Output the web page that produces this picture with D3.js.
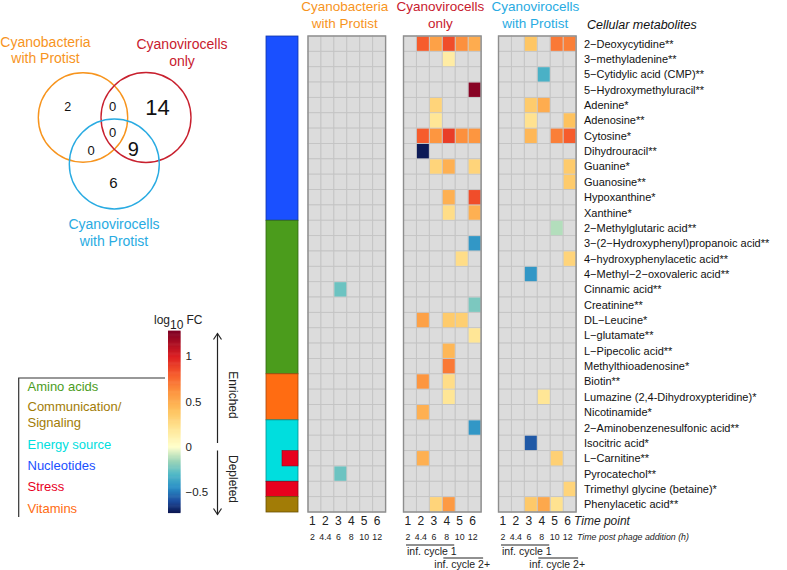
<!DOCTYPE html>
<html>
<head>
<meta charset="utf-8">
<script src="https://cdn.jsdelivr.net/npm/d3@7"></script>
<style>
  html, body { margin: 0; padding: 0; background: #fff; }
  svg { display: block; font-family: "Liberation Sans", Arial, sans-serif; }
</style>
</head>
<body>
<svg id="chart" width="787" height="570"></svg>
<script>
const metabolites = [
  "2−Deoxycytidine**", "3−methyladenine**", "5−Cytidylic acid (CMP)**",
  "5−Hydroxymethyluracil**", "Adenine*", "Adenosine**", "Cytosine*",
  "Dihydrouracil**", "Guanine*", "Guanosine**", "Hypoxanthine*", "Xanthine*",
  "2−Methylglutaric acid**", "3−(2−Hydroxyphenyl)propanoic acid**",
  "4−hydroxyphenylacetic acid**", "4−Methyl−2−oxovaleric acid**",
  "Cinnamic acid**", "Creatinine**", "DL−Leucine*", "L−glutamate**",
  "L−Pipecolic acid**", "Methylthioadenosine*", "Biotin**",
  "Lumazine (2,4-Dihydroxypteridine)*", "Nicotinamide*",
  "2−Aminobenzenesulfonic acid**", "Isocitric acid*", "L−Carnitine**",
  "Pyrocatechol**", "Trimethyl glycine (betaine)*", "Phenylacetic acid**"
];

const categoryNames = ["Amino acids", "Communication/Signaling", "Energy source", "Nucleotides", "Stress", "Vitamins"];
const categoryColors = ["#4b9c1c", "#a27c06", "#00dede", "#1a50ff", "#e8001e", "#ff6c12"];

// one category per metabolite row
const rowCategory = [
  "Nucleotides", "Nucleotides", "Nucleotides", "Nucleotides", "Nucleotides", "Nucleotides",
  "Nucleotides", "Nucleotides", "Nucleotides", "Nucleotides", "Nucleotides", "Nucleotides",
  "Amino acids", "Amino acids", "Amino acids", "Amino acids", "Amino acids",
  "Amino acids", "Amino acids", "Amino acids", "Amino acids", "Amino acids",
  "Vitamins", "Vitamins", "Vitamins",
  "Energy source", "Energy source", "Energy source", "Energy source",
  "Stress", "Communication/Signaling"
];
// rows with a second category (row, category)
const secondCategory = [[27, "Stress"]];

const panelTitles = [["Cyanobacteria", "with Protist"], ["Cyanovirocells", "only"], ["Cyanovirocells", "with Protist"]];
const panelColors = ["#f7941d", "#c8202e", "#29abe2"];
const timePoints = [1, 2, 3, 4, 5, 6];
const hourLabels = ["2", "4.4", "6", "8", "10", "12"];

// [row, time point, log10 FC]
const protistValues = [[16, 3, -0.25], [28, 3, -0.25]];
const virocellValues = [
  [0, 2, 0.8], [0, 3, 0.55], [0, 4, 0.85], [0, 5, 0.62], [0, 6, 0.5],
  [1, 4, 0.15], [3, 6, 1.25], [4, 3, 0.3], [5, 3, 0.2],
  [6, 2, 0.8], [6, 3, 0.6], [6, 4, 0.9], [6, 5, 0.62], [6, 6, 0.6],
  [7, 2, -0.72], [8, 3, 0.3], [8, 4, 0.48], [8, 6, 0.3],
  [10, 4, 0.48], [10, 6, 0.85], [11, 4, 0.25], [11, 6, 0.48],
  [13, 6, -0.42], [14, 5, 0.25], [17, 6, -0.22],
  [18, 2, 0.55], [18, 4, 0.35], [18, 5, 0.33], [19, 6, 0.2],
  [20, 4, 0.45], [21, 4, 0.7], [22, 2, 0.6], [22, 4, 0.25], [23, 4, 0.2],
  [24, 2, 0.48], [25, 6, -0.42], [27, 2, 0.48], [30, 3, 0.3], [30, 4, 0.58]
];
const virocellProtistValues = [
  [0, 3, 0.38], [0, 5, 0.7], [0, 6, 0.68], [2, 4, -0.33],
  [4, 3, 0.35], [4, 4, 0.5], [5, 3, 0.22], [5, 6, 0.4],
  [6, 3, 0.45], [6, 5, 0.68], [6, 6, 0.8], [8, 6, 0.35], [9, 6, 0.35],
  [12, 5, -0.12], [14, 6, 0.3], [15, 3, -0.42], [23, 4, 0.2],
  [26, 3, -0.57], [27, 5, 0.32], [29, 6, 0.3],
  [30, 3, 0.36], [30, 4, 0.52], [30, 5, 0.22]
];
const panelValues = [protistValues, virocellValues, virocellProtistValues];

const vennCounts = [2, 0, 14, 0, 0, 9, 6];
const colorTicks = [1, 0.5, 0, -0.5];
const fcStops = [-0.73, -0.6, -0.45, -0.3, -0.15, 0, 0.2, 0.4, 0.6, 0.8, 1.0, 1.28];
const fcColors = ["#0c1650", "#1d4c9e", "#2a8fc6", "#52b9c6", "#a0d6b8", "#ffffcc",
  "#ffe696", "#fec25e", "#fd9640", "#f65c2c", "#dc1e22", "#7e0024"];

const svg = d3.select("#chart");
const color = d3.scaleLinear().domain(fcStops).range(fcColors).interpolate(d3.interpolateRgb).clamp(true);

// ---------- heatmap ----------
const y = d3.scaleBand().domain(d3.range(metabolites.length)).range([36, 512]);
const panelX0 = [308, 403.5, 498.5];
const panelW = 77.6;

panelX0.forEach((x0, p) => {
  const x = d3.scaleBand().domain(timePoints).range([x0, x0 + panelW]);
  const g = svg.append("g");
  const cells = [];
  metabolites.forEach((_m, r) => timePoints.forEach(t => cells.push([r, t])));
  g.selectAll("rect.bg").data(cells).join("rect")
    .attr("x", d => x(d[1])).attr("y", d => y(d[0]))
    .attr("width", x.bandwidth()).attr("height", y.bandwidth())
    .attr("fill", "#dcdcdc").attr("stroke", "#c4c4c4").attr("stroke-width", 0.9);
  g.selectAll("rect.v").data(panelValues[p]).join("rect")
    .attr("x", d => x(d[1]) + 0.5).attr("y", d => y(d[0]) + 0.5)
    .attr("width", x.bandwidth() - 1).attr("height", y.bandwidth() - 1)
    .attr("fill", d => color(d[2]));
  g.append("rect")
    .attr("x", x0).attr("y", 36).attr("width", panelW).attr("height", 476)
    .attr("fill", "none").attr("stroke", "#8e8e8e").attr("stroke-width", 1.4);

  const cx = x0 + panelW / 2;
  panelTitles[p].forEach((line, i) => {
    svg.append("text").attr("x", cx - 2).attr("y", 11 + i * 16.5)
      .attr("text-anchor", "middle").attr("font-size", 13.5)
      .attr("fill", panelColors[p]).text(line);
  });

  g.selectAll("text.tp").data(timePoints).join("text")
    .attr("x", d => x(d) + x.bandwidth() / 2 - 2).attr("y", 525)
    .attr("text-anchor", "middle").attr("font-size", 12).attr("fill", "#222")
    .text(d => d);
  g.selectAll("text.hr").data(hourLabels).join("text")
    .attr("x", (d, i) => x(timePoints[i]) + x.bandwidth() / 2 - 2).attr("y", 540)
    .attr("text-anchor", "middle").attr("font-size", 8.8).attr("fill", "#222")
    .text(d => d);

  if (p > 0) {
    const l1a = x(1) + 2.5, l1b = x(4) + x.bandwidth() - 1;
    const l2a = x(4) + 1, l2b = x(6) + x.bandwidth() + 2;
    g.append("line").attr("x1", l1a).attr("x2", l1b).attr("y1", 545).attr("y2", 545)
      .attr("stroke", "#222").attr("stroke-width", 1);
    g.append("text").attr("x", l1a + 1).attr("y", 554.5).attr("font-size", 10.5)
      .attr("fill", "#222").text("inf. cycle 1");
    g.append("line").attr("x1", l2a).attr("x2", l2b).attr("y1", 558).attr("y2", 558)
      .attr("stroke", "#222").attr("stroke-width", 1);
    g.append("text").attr("x", l2a - 9).attr("y", 568).attr("font-size", 10.5)
      .attr("fill", "#222").text("inf. cycle 2+");
  }
});

svg.append("text").attr("x", 574).attr("y", 525).attr("font-size", 12)
  .attr("font-style", "italic").attr("fill", "#222").text("Time point");
svg.append("text").attr("x", 577).attr("y", 540).attr("font-size", 8.8)
  .attr("font-style", "italic").attr("fill", "#222").text("Time post phage addition (h)");

// metabolite labels
svg.append("text").attr("x", 587).attr("y", 29).attr("font-size", 12.5)
  .attr("font-style", "italic").attr("fill", "#111").text("Cellular metabolites");
svg.selectAll("text.met").data(metabolites).join("text")
  .attr("x", 584).attr("y", (d, i) => y(i) + y.bandwidth() / 2)
  .attr("dy", "0.36em").attr("font-size", 11).attr("fill", "#111")
  .text(d => d);

// category bar, one block per run of equal categories
const catColor = d3.scaleOrdinal().domain(categoryNames).range(categoryColors);
const barX = 266, barW = 32;
const segments = [];
rowCategory.forEach((c, i) => {
  const last = segments[segments.length - 1];
  if (last && last.cat === c) last.end = i; else segments.push({ cat: c, start: i, end: i });
});
svg.selectAll("rect.seg").data(segments).join("rect")
  .attr("x", barX).attr("y", d => y(d.start)).attr("width", barW)
  .attr("height", d => y(d.end) + y.step() - y(d.start))
  .attr("fill", d => catColor(d.cat))
  .attr("stroke", d => d3.color(catColor(d.cat)).darker(1.2)).attr("stroke-width", 0.8);
svg.selectAll("rect.cat2").data(secondCategory).join("rect")
  .attr("x", barX + barW / 2).attr("y", d => y(d[0])).attr("width", barW / 2)
  .attr("height", y.step()).attr("fill", d => catColor(d[1]))
  .attr("stroke", d => d3.color(catColor(d[1])).darker(1.2)).attr("stroke-width", 0.6);

// ---------- colour bar ----------
const cy = d3.scaleLinear().domain([-0.73, 1.28]).range([512.8, 330.9]);
const steps = d3.range(-0.73, 1.28, 0.01);
svg.selectAll("rect.cb").data(steps).join("rect")
  .attr("x", 168).attr("width", 12.5)
  .attr("y", d => cy(d + 0.01) - 0.3).attr("height", d => cy(d) - cy(d + 0.01) + 0.6)
  .attr("fill", d => color(d + 0.005));
svg.selectAll("text.ct").data(colorTicks).join("text")
  .attr("x", 185.5).attr("y", d => cy(d)).attr("dy", "0.36em")
  .attr("font-size", 11.5).attr("fill", "#222")
  .text(d => d < 0 ? "−" + Math.abs(d) : d);
const lg = svg.append("text").attr("x", 154).attr("y", 324).attr("font-size", 12).attr("fill", "#222");
lg.append("tspan").text("log");
lg.append("tspan").attr("dy", 5).text("10");
lg.append("tspan").attr("dy", -5).attr("dx", 3).text("FC");

// enriched / depleted arrows
const arrowG = svg.append("g").attr("stroke", "#222").attr("stroke-width", 1.2).attr("fill", "none");
arrowG.append("line").attr("x1", 217.5).attr("x2", 217.5).attr("y1", 333.5).attr("y2", 443);
arrowG.append("path").attr("d", "M213.5,339.5 L217.5,333.5 L221.5,339.5");
arrowG.append("line").attr("x1", 217.5).attr("x2", 217.5).attr("y1", 450.5).attr("y2", 514.5);
arrowG.append("path").attr("d", "M213.5,508.5 L217.5,514.5 L221.5,508.5");
[["Enriched", 395], ["Depleted", 479]].forEach(([t, yy]) => {
  svg.append("text").attr("transform", `translate(229,${yy}) rotate(90)`)
    .attr("text-anchor", "middle").attr("font-size", 12).attr("fill", "#222").text(t);
});

// ---------- category legend ----------
svg.append("path").attr("d", "M165,378 H18.7 V517").attr("fill", "none")
  .attr("stroke", "#333").attr("stroke-width", 1.2);
const legendItems = [
  ["Amino acids", 391], ["Communication/", 411], ["Signaling", 427], ["Energy source", 449],
  ["Nucleotides", 470], ["Stress", 491], ["Vitamins", 513]
];
const legendCat = ["Amino acids", "Communication/Signaling", "Communication/Signaling", "Energy source", "Nucleotides", "Stress", "Vitamins"];
svg.selectAll("text.leg").data(legendItems).join("text")
  .attr("x", 27.5).attr("y", d => d[1]).attr("font-size", 13)
  .attr("fill", (d, i) => catColor(legendCat[i])).text(d => d[0]);

// ---------- Venn ----------
const venn = [
  { cx: 83, cy: 117.5, r: 44.7, c: panelColors[0] },
  { cx: 146, cy: 117.5, r: 45, c: panelColors[1] },
  { cx: 114.3, cy: 164, r: 45, c: panelColors[2] }
];
svg.selectAll("circle.venn").data(venn).join("circle")
  .attr("cx", d => d.cx).attr("cy", d => d.cy).attr("r", d => d.r)
  .attr("fill", "none").attr("stroke", d => d.c).attr("stroke-width", 1.4);
const vennPos = [[67.7, 106, 12.5], [112.7, 106, 13], [157.5, 107.5, 22], [112.7, 132.7, 13],
  [91, 150, 13], [133.3, 149, 20], [113.3, 182.3, 15]];
svg.selectAll("text.vn").data(vennCounts).join("text")
  .attr("x", (d, i) => vennPos[i][0]).attr("y", (d, i) => vennPos[i][1])
  .attr("dy", "0.36em").attr("text-anchor", "middle")
  .attr("font-size", (d, i) => vennPos[i][2]).attr("fill", "#111").text(d => d);
const vennLabels = [
  [panelTitles[0], 45.5, 46.5, panelColors[0]],
  [panelTitles[1], 182, 49, panelColors[1]],
  [panelTitles[2], 114, 229, panelColors[2]]
];
vennLabels.forEach(([lines, lx, ly, c]) => {
  lines.forEach((t, i) => {
    svg.append("text").attr("x", lx).attr("y", ly + i * 16.5).attr("text-anchor", "middle")
      .attr("font-size", 14).attr("fill", c).text(t);
  });
});
</script>
</body>
</html>
